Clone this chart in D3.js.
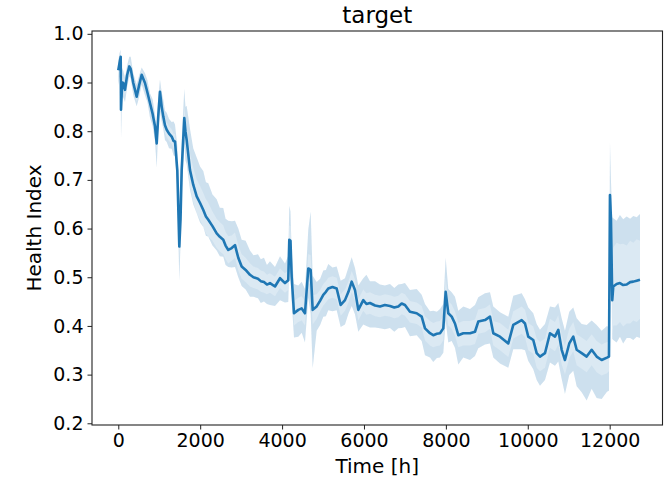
<!DOCTYPE html>
<html>
<head>
<meta charset="utf-8">
<script src="https://cdn.jsdelivr.net/npm/d3@7"></script>
<style>
  body { margin: 0; background: #fff; }
  text { font-family: "DejaVu Sans", sans-serif; fill: #000; }
</style>
</head>
<body>
<div class="canvas"></div>
<script>
// data (time in hours, health index)
const timeH = [0, 30, 59, 66, 95, 122, 164, 215, 269, 303, 366, 449, 510, 571, 652, 710, 774, 840, 896, 938,
  975, 1018, 1060, 1099, 1140, 1182, 1240, 1304, 1350, 1385, 1441, 1490, 1520, 1548, 1612, 1640, 1670, 1751, 1830, 1915,
  2000, 2076, 2140, 2198, 2300, 2403, 2480, 2564, 2620, 2686, 2770, 2850, 2930, 3013, 3110, 3216, 3300, 3411, 3480, 3558,
  3630, 3704, 3827, 3949, 4071, 4151, 4176, 4205, 4234, 4291, 4396, 4479, 4559, 4640, 4698, 4747, 4845, 4930, 5006, 5070,
  5128, 5230, 5333, 5431, 5536, 5620, 5700, 5780, 5861, 5983, 6060, 6146, 6270, 6391, 6510, 6635, 6740, 6838, 6920, 7001,
  7123, 7287, 7409, 7490, 7612, 7692, 7780, 7856, 7937, 7995, 8059, 8142, 8222, 8303, 8425, 8589, 8711, 8791, 8955, 9077,
  9158, 9321, 9524, 9646, 9851, 9932, 10012, 10134, 10217, 10298, 10420, 10542, 10664, 10745, 10828, 10908, 11013, 11111, 11194, 11316,
  11438, 11560, 11682, 11804, 11934, 11983, 12007, 12031, 12063, 12088, 12170, 12251, 12330, 12415, 12500, 12577, 12660, 12740];

const healthMean = [0.925, 0.94, 0.953, 0.844, 0.90, 0.899, 0.885, 0.915, 0.933, 0.928, 0.899, 0.871, 0.895, 0.916, 0.899, 0.88, 0.858, 0.835, 0.81, 0.775,
  0.83, 0.881, 0.85, 0.83, 0.812, 0.803, 0.795, 0.789, 0.78, 0.779, 0.72, 0.563, 0.62, 0.72, 0.827, 0.80, 0.782, 0.72, 0.69, 0.666,
  0.652, 0.638, 0.625, 0.618, 0.605, 0.59, 0.583, 0.577, 0.565, 0.556, 0.56, 0.566, 0.54, 0.522, 0.515, 0.505, 0.50, 0.497, 0.492, 0.49,
  0.485, 0.488, 0.481, 0.498, 0.488, 0.494, 0.577, 0.575, 0.501, 0.426, 0.433, 0.436, 0.426, 0.518, 0.515, 0.433, 0.44, 0.452, 0.464, 0.47,
  0.477, 0.48, 0.477, 0.443, 0.453, 0.47, 0.491, 0.474, 0.433, 0.453, 0.445, 0.447, 0.442, 0.44, 0.443, 0.441, 0.438, 0.44, 0.446, 0.443,
  0.429, 0.426, 0.419, 0.395, 0.385, 0.381, 0.384, 0.385, 0.395, 0.47, 0.426, 0.419, 0.405, 0.381, 0.385, 0.385, 0.388, 0.409, 0.412, 0.419,
  0.385, 0.378, 0.364, 0.402, 0.412, 0.405, 0.378, 0.371, 0.344, 0.337, 0.344, 0.385, 0.378, 0.392, 0.351, 0.33, 0.364, 0.378, 0.351, 0.344,
  0.337, 0.351, 0.337, 0.33, 0.335, 0.337, 0.669, 0.62, 0.453, 0.481, 0.486, 0.488, 0.484, 0.485, 0.49, 0.491, 0.493, 0.495];

// outer band: distance above / below the mean
const spreadUp = [.02, .02, .015, .05, .03, .025, .025, .02, .02, .025, .02, .025, .02, .015, .02, .025, .02, .03, .025, .03,
  .04, .025, .03, .035, .03, .035, .03, .03, .04, .035, .05, .08, .09, .06, .06, .05, .07, .085, .075, .08,
  .075, .08, .07, .075, .065, .07, .06, .065, .055, .06, .055, .05, .06, .055, .06, .05, .045, .05, .045, .05,
  .04, .045, .04, .045, .04, .05, .07, .06, .05, .06, .05, .055, .05, .08, .12, .07, .05, .045, .05, .045,
  .05, .04, .045, .05, .045, .05, .05, .045, .05, .045, .06, .045, .05, .045, .04, .045, .04, .045, .04, .045,
  .045, .05, .045, .05, .045, .05, .045, .05, .05, .07, .05, .05, .055, .05, .055, .05, .055, .05, .055, .05,
  .055, .05, .055, .06, .055, .05, .06, .055, .06, .055, .06, .055, .06, .055, .065, .06, .065, .06, .065, .06,
  .065, .06, .065, .06, .065, .06, .11, .08, .17, .14, .13, .14, .135, .14, .13, .135, .13, .135];

const spreadDown = [.03, .03, .04, .06, .03, .03, .025, .025, .02, .02, .025, .02, .025, .02, .025, .02, .03, .025, .03, .05,
  .03, .04, .03, .025, .03, .025, .03, .025, .03, .03, .04, .07, .05, .05, .05, .06, .05, .04, .04, .035,
  .04, .035, .04, .035, .04, .035, .04, .035, .04, .035, .04, .045, .04, .04, .04, .045, .04, .04, .045, .04,
  .04, .045, .04, .045, .04, .045, .06, .07, .05, .05, .055, .05, .06, .06, .09, .12, .05, .05, .045, .05,
  .045, .05, .045, .045, .05, .045, .05, .05, .045, .05, .045, .05, .045, .045, .05, .045, .05, .045, .05, .045,
  .05, .045, .05, .055, .05, .055, .05, .05, .05, .06, .06, .05, .05, .06, .05, .055, .05, .055, .05, .055,
  .05, .055, .05, .05, .06, .055, .05, .06, .055, .06, .055, .06, .06, .065, .06, .07, .065, .07, .075, .08,
  .09, .08, .085, .08, .07, .07, .05, .06, .08, .11, .12, .11, .12, .11, .115, .12, .115, .12];

// inner (lighter core) half width around the mean
const innerSpread = [.012, .012, .015, .02, .015, .012, .012, .01, .01, .01, .01, .01, .01, .01, .01, .012, .012, .012, .012, .015,
  .015, .015, .015, .015, .015, .015, .015, .015, .015, .015, .02, .03, .03, .025, .025, .025, .03, .035, .035, .035,
  .035, .035, .035, .035, .03, .03, .03, .03, .028, .028, .026, .026, .026, .025, .025, .024, .022, .022, .022, .022,
  .02, .02, .02, .02, .02, .02, .03, .03, .025, .025, .025, .025, .025, .03, .03, .03, .025, .022, .022, .022,
  .022, .022, .022, .022, .022, .022, .022, .022, .022, .022, .022, .022, .022, .022, .022, .022, .022, .022, .022, .022,
  .022, .022, .022, .025, .025, .025, .025, .025, .025, .03, .025, .025, .025, .025, .025, .025, .025, .025, .025, .025,
  .025, .028, .028, .028, .028, .028, .028, .028, .03, .03, .03, .03, .03, .03, .03, .03, .03, .03, .032, .032,
  .032, .032, .032, .032, .032, .03, .03, .03, .07, .08, .085, .08, .085, .08, .085, .08, .085, .08];

const xTicks = [0, 2000, 4000, 6000, 8000, 10000, 12000];
const yTicks = [0.2, 0.3, 0.4, 0.5, 0.6, 0.7, 0.8, 0.9, 1.0];

const rows = timeH.map((t, i) => ({
  t: t,
  m: healthMean[i],
  hi: healthMean[i] + spreadUp[i],
  lo: healthMean[i] - spreadDown[i],
  ihi: healthMean[i] + innerSpread[i],
  ilo: healthMean[i] - innerSpread[i]
}));

const width = 664, height = 480;
const plot = {left: 92, right: 662.5, top: 31, bottom: 425};

const svg = d3.select('.canvas')
  .append('svg')
    .attr('width', width)
    .attr('height', height);

const x = d3.scaleLinear()
  .domain([-642, 13290])
  .range([plot.left, plot.right]);

const y = d3.scaleLinear()
  .domain([0.1965, 1.0058])
  .range([plot.bottom, plot.top]);

svg.append('clipPath').attr('id', 'clip')
  .append('rect')
    .attr('x', plot.left).attr('y', plot.top)
    .attr('width', plot.right - plot.left)
    .attr('height', plot.bottom - plot.top);

const g = svg.append('g').attr('clip-path', 'url(#clip)');

const band = (lo, hi) => d3.area()
  .x(d => x(d.t))
  .y0(d => y(d[lo]))
  .y1(d => y(d[hi]));

// full band, light
g.append('path')
  .datum(rows)
  .attr('d', band('lo', 'hi'))
  .attr('fill', '#1f77b4')
  .attr('opacity', 0.16);

// slightly darker edges
g.append('path')
  .datum(rows)
  .attr('d', band('ihi', 'hi'))
  .attr('fill', '#1f77b4')
  .attr('opacity', 0.07);

g.append('path')
  .datum(rows)
  .attr('d', band('lo', 'ilo'))
  .attr('fill', '#1f77b4')
  .attr('opacity', 0.07);

// mean line
g.append('path')
  .datum(rows)
  .attr('d', d3.line().x(d => x(d.t)).y(d => y(d.m)))
  .attr('fill', 'none')
  .attr('stroke', '#1f77b4')
  .attr('stroke-width', 2.6)
  .attr('stroke-linejoin', 'round');

// axes
const xAxis = d3.axisBottom(x).tickValues(xTicks).tickSize(4.5).tickPadding(4).tickFormat(d3.format('d'));
const yAxis = d3.axisLeft(y).tickValues(yTicks).tickSize(4.5).tickPadding(4).tickFormat(d3.format('.1f'));

const xAxisGroup = svg.append('g')
  .attr('transform', `translate(0, ${plot.bottom})`)
  .call(xAxis);
const yAxisGroup = svg.append('g')
  .attr('transform', `translate(${plot.left}, 0)`)
  .call(yAxis);

[xAxisGroup, yAxisGroup].forEach(a => {
  a.select('.domain').remove();
  a.selectAll('line').attr('stroke', '#222');
  a.selectAll('text').attr('font-size', 19).attr('fill', '#111');
});

// frame
svg.append('rect')
  .attr('x', plot.left).attr('y', plot.top)
  .attr('width', plot.right - plot.left)
  .attr('height', plot.bottom - plot.top)
  .attr('fill', 'none')
  .attr('stroke', '#222')
  .attr('stroke-width', 1.1);

svg.append('text')
  .attr('x', (plot.left + plot.right) / 2)
  .attr('y', 23)
  .attr('text-anchor', 'middle')
  .attr('font-size', 23)
  .text('target');

svg.append('text')
  .attr('x', (plot.left + plot.right) / 2)
  .attr('y', 473)
  .attr('text-anchor', 'middle')
  .attr('font-size', 20)
  .text('Time [h]');

svg.append('text')
  .attr('transform', `translate(41, ${(plot.top + plot.bottom) / 2}) rotate(-90)`)
  .attr('text-anchor', 'middle')
  .attr('font-size', 20)
  .text('Health Index');
</script>
</body>
</html>
